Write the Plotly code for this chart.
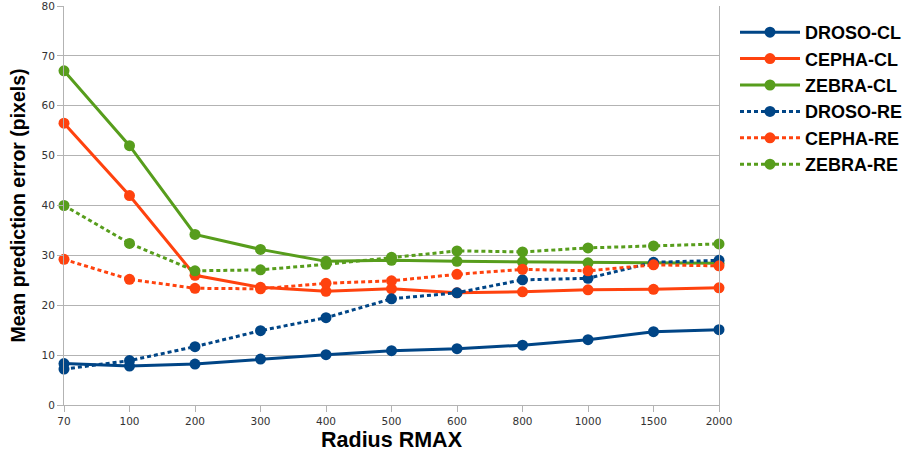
import plotly.graph_objects as go

# Radius settings (category axis)
radius = ["70", "100", "200", "300", "400", "500", "600", "800", "1000", "1500", "2000"]

# Mean prediction error (pixels) per dataset and method
droso_cl = [8.3, 7.8, 8.2, 9.2, 10.1, 10.9, 11.3, 12.0, 13.1, 14.7, 15.1]
cepha_cl = [56.5, 42.0, 26.0, 23.6, 22.8, 23.3, 22.5, 22.7, 23.1, 23.2, 23.5]
zebra_cl = [67.0, 52.0, 34.2, 31.2, 28.8, 29.0, 28.8, 28.7, 28.5, 28.4, 28.4]
droso_re = [7.2, 8.9, 11.7, 14.9, 17.5, 21.3, 22.5, 25.1, 25.4, 28.6, 29.0]
cepha_re = [29.2, 25.2, 23.4, 23.3, 24.4, 24.9, 26.2, 27.2, 26.9, 28.1, 27.9]
zebra_re = [40.0, 32.4, 26.9, 27.1, 28.2, 29.6, 30.9, 30.7, 31.5, 31.9, 32.3]

# y-axis tick labels
y_ticks = [0, 10, 20, 30, 40, 50, 60, 70, 80]

series_names = ["DROSO-CL", "CEPHA-CL", "ZEBRA-CL", "DROSO-RE", "CEPHA-RE", "ZEBRA-RE"]
series_values = [droso_cl, cepha_cl, zebra_cl, droso_re, cepha_re, zebra_re]

BLUE = "#004586"
ORANGE = "#ff420e"
GREEN = "#579d1c"
colors = [BLUE, ORANGE, GREEN, BLUE, ORANGE, GREEN]
dashes = ["solid", "solid", "solid", "4px,3px", "4px,3px", "4px,3px"]

fig = go.Figure()
for name, vals, col, dash in zip(series_names, series_values, colors, dashes):
    fig.add_trace(go.Scatter(
        x=radius, y=vals, name=name, mode="lines+markers",
        line=dict(color=col, width=3, dash=dash),
        marker=dict(color=col, size=11, symbol="circle"),
        cliponaxis=False,
    ))

GRID = "#b3b3b3"
tick_font = dict(family="DejaVu Sans", size=10.5, color="#333333")

fig.update_layout(
    width=908, height=460,
    margin=dict(l=64, r=189, t=6, b=55, autoexpand=False),
    paper_bgcolor="white", plot_bgcolor="white",
    showlegend=True,
    legend=dict(
        xref="container", x=735 / 908, xanchor="left",
        yref="container", y=1 - 14 / 460, yanchor="top",
        font=dict(family="Liberation Sans", size=18, color="#000000", weight="bold"),
        itemwidth=60, tracegroupgap=0, bgcolor="rgba(0,0,0,0)",
    ),
    xaxis=dict(
        type="category", range=[0, 10], automargin=False,
        showgrid=False, showline=True, linecolor=GRID, linewidth=1,
        ticks="outside", ticklen=6, tickcolor=GRID,
        tickfont=tick_font,
        title=dict(text="Radius RMAX", font=dict(family="Liberation Sans", size=21.5,
                                                 color="#000000", weight="bold"), standoff=6),
        zeroline=False,
    ),
    yaxis=dict(
        range=[0, 80], tickmode="array", tickvals=y_ticks, automargin=False,
        ticktext=[str(v) for v in y_ticks], ticklabeloverflow="allow",
        showgrid=True, gridcolor=GRID, gridwidth=1,
        showline=True, linecolor=GRID, linewidth=1, mirror=True,
        ticks="outside", ticklen=6, tickcolor=GRID,
        tickfont=tick_font,
        title=dict(text="Mean prediction error (pixels)",
                   font=dict(family="Liberation Sans", size=19.5, color="#000000", weight="bold"),
                   standoff=10),
        zeroline=False,
    ),
)

fig.write_html("out.html")
